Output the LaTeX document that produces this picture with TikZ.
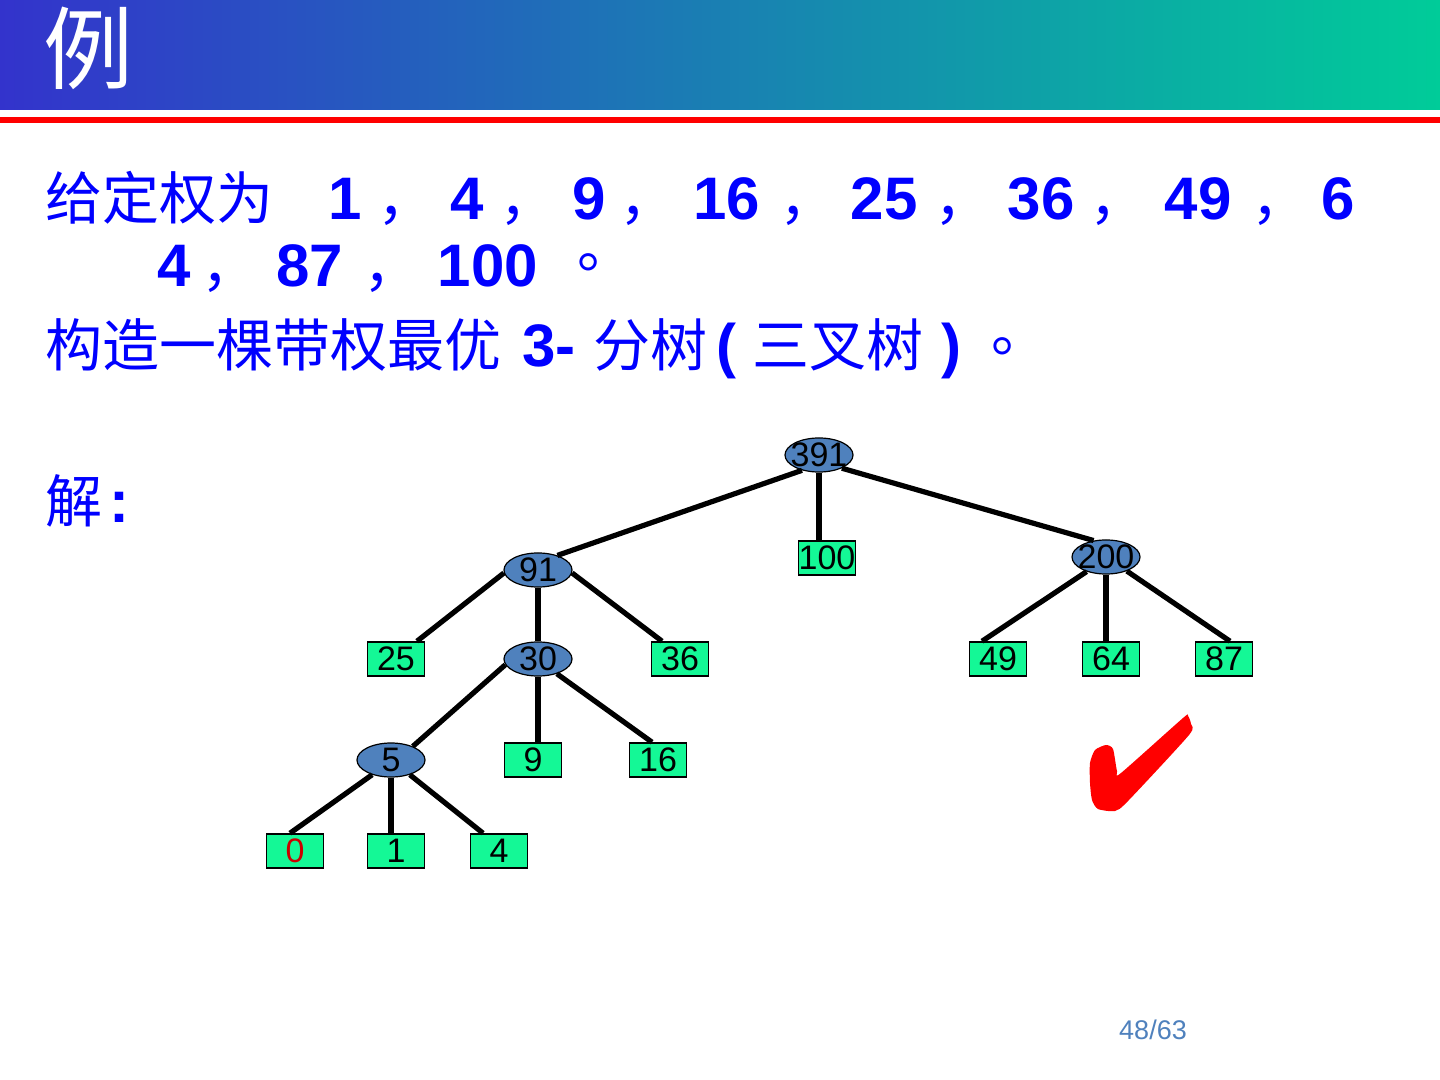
\documentclass[tikz,border=0pt]{standalone}
\usepackage{fontspec}
\setmainfont{Liberation Sans}
\newfontfamily\cjk{Noto Sans CJK SC}
\usetikzlibrary{shapes.geometric,positioning,calc}
\definecolor{barL}{RGB}{51,51,204}
\definecolor{barR}{RGB}{0,204,153}
\definecolor{nodeblue}{RGB}{79,129,189}
\definecolor{leafgreen}{RGB}{20,248,150}
\newcommand{\wt}[1]{\makebox[0pt]{#1}}

\begin{document}
\begin{tikzpicture}[x=0.5pt,y=-0.5pt,
  inode/.style={ellipse, draw, line width=0.6pt, fill=nodeblue, minimum width=34pt,
                minimum height=17pt, inner sep=0pt, font=\fontsize{17}{17}\selectfont},
  leaf/.style={rectangle, draw, line width=0.8pt, fill=leafgreen, minimum width=28.5pt,
               minimum height=17pt, inner sep=0pt, font=\fontsize{17}{17}\selectfont},
  link/.style={line width=2.6pt},
  txt/.style={inner sep=0pt, anchor=base west, text=blue, font=\cjk\fontsize{28.5}{30}\selectfont},
  punct/.style={txt, text height=0.4em, text depth=0pt},
  num/.style={inner sep=0pt, anchor=base, text=blue, font=\bfseries\fontsize{30}{32}\selectfont}
]
\useasboundingbox (0,0) rectangle (1440,1080);
\fill[white] (0,0) rectangle (1440,1080);

% Title bar
\shade[left color=barL, right color=barR] (0,0) rectangle (1440,110);
\fill[red] (0,117) rectangle (1440,123);
\node[inner sep=0pt, text=white, font=\cjk\fontsize{45}{45}\selectfont] (title) at (88,48) {例};

% Text
\node[txt] (given) at (45,220) {给定权为};
\foreach \x/\w [count=\i] in {345/1,467/4,589/9,727/16,884/25,1041/36,1198/49,1338/6}
  \node[num] (wa\i) at (\x,220) {\w};
\foreach \x [count=\i] in {388,510,630,790,945,1100,1262}
  \node[punct] (ca\i) at (\x-11,220) {，};
\foreach \x/\w [count=\i] in {174/4,310/87,488/100}
  \node[num] (wb\i) at (\x,287) {\w};
\foreach \x [count=\i] in {212,374}
  \node[punct] (cb\i) at (\x-11,287) {，};
\node[punct] (stopa) at (577,268) {。};

\node[txt] (build) at (45,367) {构造一棵带权最优};
\node[num, anchor=base west] (three) at (522,367) {3-};
\node[txt] (fenshu) at (593,367) {分树};
\node[num, anchor=base west] (lpar) at (716,367) {(};
\node[txt] (sancha) at (752,367) {三叉树};
\node[num, anchor=base west] (rpar) at (941,367) {)};
\node[punct] (stopb) at (991,352) {。};

\node[txt] (sol) at (45,522) {解};
\node[num, anchor=base west] (colon) at (109,522) {:};

% Tree
\node[inode] (n391) at (819,455) {\wt{391}};
\node[leaf]  (l100) at (827,558) {100};
\node[inode] (n200) at (1106,557) {\wt{200}};
\node[inode] (n91)  at (538,570) {\wt{91}};
\node[leaf]  (l25)  at (396,659) {25};
\node[inode] (n30)  at (538,659) {\wt{30}};
\node[leaf]  (l36)  at (680,659) {36};
\node[leaf]  (l49)  at (998,659) {49};
\node[leaf]  (l64)  at (1111,659) {64};
\node[leaf]  (l87)  at (1224,659) {87};
\node[inode] (n5)   at (391,760) {\wt{5}};
\node[leaf]  (l9)   at (533,760) {9};
\node[leaf]  (l16)  at (658,760) {16};
\node[leaf, text=red!80!black] (l0) at (295,851) {0};
\node[leaf]  (l1)   at (396,851) {1};
\node[leaf]  (l4)   at (499,851) {4};

\draw[link] (n391.222) -- (n91.37);
\draw[link] (n391.south) -- (n391.south |- l100.north);
\draw[link] (n391.330) -- (n200.127);
\draw[link] (n91.185) -- ($(l25.north)+(21,0)$);
\draw[link] (n91.south) -- (n30.north);
\draw[link] (n91.355) -- ($(l36.north)+(-18,0)$);
\draw[link] (n200.217) -- ($(l49.north)+(-16,0)$);
\draw[link] (n200.south) -- (n200.south |- l64.north);
\draw[link] (n200.326) -- ($(l87.north)+(6,0)$);
\draw[link] (n30.190) -- (n5.32);
\draw[link] (n30.south) -- (n30.south |- l9.north);
\draw[link] (n30.322) -- ($(l16.north)+(-6,0)$);
\draw[link] (n5.218) -- ($(l0.north)+(-5,0)$);
\draw[link] (n5.south) -- (n5.south |- l1.north);
\draw[link] (n5.322) -- ($(l4.north)+(-16,0)$);

% Check mark
\fill[red] plot[smooth cycle, tension=0.4] coordinates {(1090,763) (1095,750) (1106,745)
  (1113,749) (1117,771) (1121,773) (1183,718) (1188,716) (1191,724) (1189,735)
  (1128,801) (1115,811) (1098,809) (1092,800) (1090,783)};

\node[inner sep=0pt, text=nodeblue, font=\fontsize{13.5}{14}\selectfont] (page) at (1153,1030) {48/63};
\end{tikzpicture}
\end{document}
